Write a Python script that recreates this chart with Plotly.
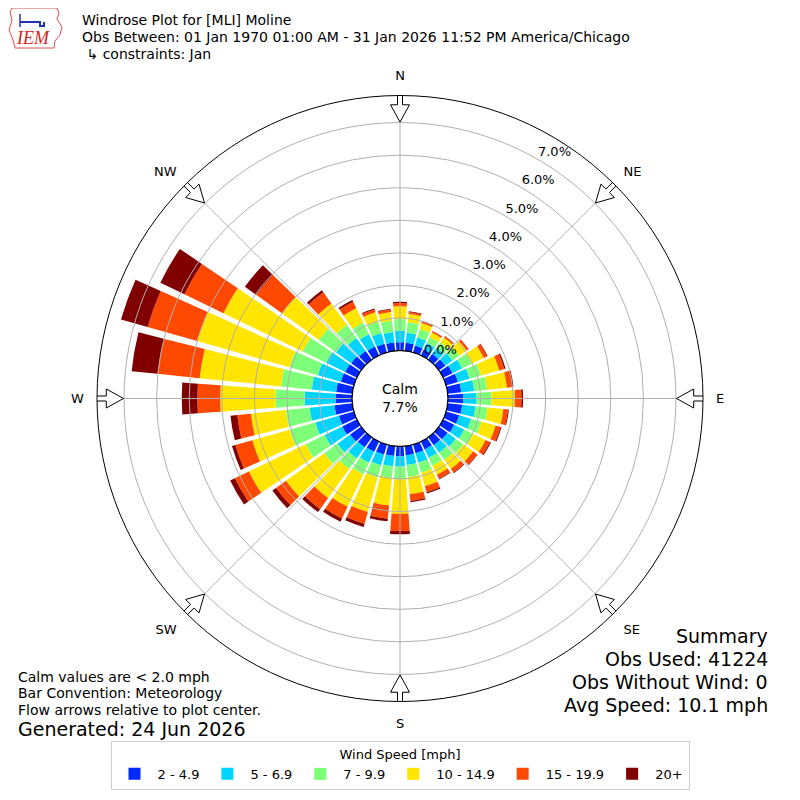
import math
import plotly.graph_objects as go

# wind direction bins (degrees, meteorological, clockwise from north)
DIRECTIONS = [0, 10, 20, 30, 40, 50, 60, 70, 80, 90, 100, 110,
              120, 130, 140, 150, 160, 170, 180, 190, 200, 210, 220, 230,
              240, 250, 260, 270, 280, 290, 300, 310, 320, 330, 340, 350]

SPEED_BINS = ["2 - 4.9", "5 - 6.9", "7 - 9.9", "10 - 14.9", "15 - 19.9", "20+"]
BIN_COLORS = ["#0028ff", "#00d4ff", "#7dff7a", "#ffe500", "#ff4800", "#800000"]

# frequency (%) of each speed bin per direction
freq_2_5 = [0.26, 0.25, 0.22, 0.20, 0.22, 0.25, 0.32, 0.38, 0.42, 0.47, 0.45, 0.42,
            0.38, 0.33, 0.30, 0.27, 0.28, 0.28, 0.30, 0.30, 0.32, 0.35, 0.38, 0.42,
            0.50, 0.48, 0.55, 0.50, 0.50, 0.42, 0.40, 0.38, 0.33, 0.30, 0.28, 0.26]
freq_5_7 = [0.35, 0.31, 0.26, 0.22, 0.23, 0.27, 0.33, 0.37, 0.40, 0.41, 0.41, 0.38,
            0.34, 0.31, 0.28, 0.28, 0.30, 0.30, 0.32, 0.32, 0.34, 0.37, 0.42, 0.48,
            0.60, 0.75, 0.77, 0.96, 0.75, 0.73, 0.65, 0.57, 0.49, 0.42, 0.34, 0.32]
freq_7_10 = [0.36, 0.32, 0.27, 0.20, 0.21, 0.26, 0.33, 0.37, 0.40, 0.46, 0.37, 0.33,
             0.31, 0.29, 0.28, 0.27, 0.32, 0.37, 0.39, 0.36, 0.39, 0.40, 0.40, 0.50,
             0.65, 0.82, 0.73, 0.90, 0.95, 0.90, 0.80, 0.65, 0.50, 0.40, 0.36, 0.35]
freq_10_15 = [0.39, 0.26, 0.19, 0.16, 0.18, 0.27, 0.41, 0.58, 0.61, 0.72, 0.49, 0.45,
              0.42, 0.37, 0.34, 0.31, 0.43, 0.53, 1.06, 0.85, 1.10, 1.10, 1.10, 1.45,
              1.93, 1.19, 1.08, 1.69, 2.51, 2.95, 2.70, 1.40, 0.81, 0.49, 0.30, 0.27]
freq_15_20 = [0.10, 0.06, 0.05, 0.04, 0.05, 0.07, 0.11, 0.16, 0.16, 0.20, 0.14, 0.16,
              0.15, 0.15, 0.14, 0.14, 0.19, 0.21, 0.53, 0.41, 0.38, 0.40, 0.42, 0.37,
              0.48, 0.54, 0.42, 0.70, 1.30, 1.58, 1.33, 0.97, 0.42, 0.22, 0.09, 0.08]
freq_20_up = [0.04, 0.02, 0.01, 0.01, 0.01, 0.01, 0.02, 0.04, 0.04, 0.05, 0.03, 0.03,
              0.03, 0.02, 0.02, 0.02, 0.04, 0.04, 0.10, 0.08, 0.10, 0.11, 0.11, 0.14,
              0.16, 0.11, 0.21, 0.48, 0.80, 0.85, 0.82, 0.43, 0.08, 0.06, 0.03, 0.02]

RADIAL_TICKS = [0, 1, 2, 3, 4, 5, 6, 7]
COMPASS_ANGLES = [0, 45, 90, 135, 180, 225, 270, 315]
COMPASS_LABELS = ["N", "NE", "E", "SE", "S", "SW", "W", "NW"]
CALM_PCT = 7.7

# geometry (page pixels); the page body adds an 8px margin
W = H = 800
OX, OY = 8, 8
CX, CY = 400, 398.5
R_PX = 303
HOLE = 0.158
RMAX = 7.83
FONT = "DejaVu Sans"


def px(x, y):
    return (x - OX) / W, 1 - (y - OY) / H


def px_to_r(rpix):
    return (rpix - HOLE * R_PX) / (R_PX * (1 - HOLE)) * RMAX


def arrow_outline(angle):
    # outline arrow pointing to the centre, local coords in pixels
    pts = [(305, -2.5), (293.7, -2.5), (293.7, -9.5), (276.5, 0),
           (293.7, 9.5), (293.7, 2.5), (305, 2.5), (305, -2.5)]
    rr, tt = [], []
    for u, v in pts:
        rr.append(px_to_r(math.hypot(u, v)))
        tt.append(angle + math.degrees(math.atan2(v, u)))
    return rr, tt


fig = go.Figure()

series = [freq_2_5, freq_5_7, freq_7_10, freq_10_15, freq_15_20, freq_20_up]
for vals, name, col in zip(series, SPEED_BINS, BIN_COLORS):
    fig.add_trace(go.Barpolar(r=vals, theta=DIRECTIONS, width=8.4, name=name,
                              marker=dict(color=col, line=dict(width=0)),
                              subplot="polar", hoverinfo="skip"))

# calm circle
circ_theta = list(range(0, 361, 2))
fig.add_trace(go.Scatterpolar(r=[0] * len(circ_theta), theta=circ_theta, mode="lines",
                              line=dict(color="black", width=1.2), showlegend=False,
                              hoverinfo="skip", cliponaxis=False, subplot="polar2"))

# direction arrows
ar, at = [], []
for a in COMPASS_ANGLES:
    r_, t_ = arrow_outline(a)
    ar += r_ + [None]
    at += t_ + [None]
fig.add_trace(go.Scatterpolar(r=ar, theta=at, mode="lines", fill="toself",
                              fillcolor="white", line=dict(color="black", width=1),
                              showlegend=False, hoverinfo="skip", cliponaxis=False,
                              subplot="polar2"))

# radial tick labels
fig.add_trace(go.Scatterpolar(r=RADIAL_TICKS, theta=[30] * len(RADIAL_TICKS), mode="text",
                              text=["%.1f%%" % t for t in RADIAL_TICKS],
                              textposition="top right",
                              textfont=dict(family=FONT, size=13, color="black"),
                              showlegend=False, hoverinfo="skip", cliponaxis=False,
                              subplot="polar2"))

x0, y1 = px(CX - R_PX, CY - R_PX)
x1, y0 = px(CX + R_PX, CY + R_PX)
dom_x = [x0, x1]
dom_y = [y0, y1]

fig.update_layout(
    width=W, height=H, autosize=False,
    margin=dict(l=0, r=0, t=0, b=0),
    paper_bgcolor="white",
    font=dict(family=FONT, size=13, color="black"),
    polar=dict(
        domain=dict(x=dom_x, y=dom_y), hole=HOLE, bgcolor="white",
        radialaxis=dict(range=[0, RMAX], visible=False),
        angularaxis=dict(rotation=90, direction="clockwise", visible=False),
    ),
    polar2=dict(
        domain=dict(x=dom_x, y=dom_y), hole=HOLE, bgcolor="rgba(0,0,0,0)",
        radialaxis=dict(range=[0, RMAX], tickvals=RADIAL_TICKS, showticklabels=False,
                        ticks="", showline=False, showgrid=True,
                        gridcolor="#b0b0b0", gridwidth=1),
        angularaxis=dict(rotation=90, direction="clockwise", tickvals=COMPASS_ANGLES,
                         ticktext=COMPASS_LABELS, ticks="outside", ticklen=10,
                         tickcolor="rgba(0,0,0,0)", tickfont=dict(size=13),
                         showgrid=True, gridcolor="#b0b0b0", gridwidth=1,
                         showline=True, linecolor="black", linewidth=1),
    ),
    legend=dict(orientation="h", x=px(400, 0)[0], xanchor="center",
                y=px(0, 741)[1], yanchor="top",
                bordercolor="#cccccc", borderwidth=1, bgcolor="white",
                title=dict(text="Wind Speed [mph]", side="top center",
                           font=dict(family=FONT, size=13)),
                font=dict(family=FONT, size=13), itemwidth=36, traceorder="normal"),
    showlegend=True,
)


def ann(text, x, y, size=13, xanchor="left", color="black"):
    ax, ay = px(x, y)
    fig.add_annotation(text=text, x=ax, y=ay, xref="paper", yref="paper",
                       showarrow=False, xanchor=xanchor, yanchor="middle",
                       font=dict(family=FONT, size=size, color=color))


ann("Windrose Plot for [MLI] Moline", 80, 20, size=14)
ann("Obs Between: 01 Jan 1970 01:00 AM - 31 Jan 2026 11:52 PM America/Chicago", 80, 37, size=14)
ann(" ↳ constraints: Jan", 80, 54, size=14)

ann("Calm<br>%.1f%%" % CALM_PCT, CX, CY, size=14, xanchor="center")

ann("Summary", 770, 636, size=19, xanchor="right")
ann("Obs Used: 41224", 770, 659, size=19, xanchor="right")
ann("Obs Without Wind: 0", 770, 682, size=19, xanchor="right")
ann("Avg Speed: 10.1 mph", 770, 705, size=19, xanchor="right")

ann("Calm values are < 2.0 mph", 16, 677, size=14)
ann("Bar Convention: Meteorology", 16, 693, size=14)
ann("Flow arrows relative to plot center.", 16, 710, size=14)
ann("Generated: 24 Jun 2026", 16, 729, size=19)


# IEM logo (rough)
def path(pts, close=True):
    s = "M " + " L ".join("%.4f,%.4f" % px(x, y) for x, y in pts)
    return s + (" Z" if close else "")


fig.add_shape(type="path", xref="paper", yref="paper",
              path=path([(12, 8), (57, 8), (59, 13), (57, 19), (62, 27), (60, 35),
                         (55, 41), (54, 48), (15, 48), (13, 40), (9, 30), (12, 20), (10, 12)]),
              line=dict(color="#e05050", width=1))
fig.add_shape(type="path", xref="paper", yref="paper",
              path=path([(20, 22), (40, 22), (40, 26), (44, 26), (44, 22)], close=False),
              line=dict(color="#2233bb", width=2))
fig.add_shape(type="path", xref="paper", yref="paper",
              path=path([(20, 14), (20, 27)], close=False),
              line=dict(color="#2233bb", width=1.5))
fig.add_annotation(text="<i>IEM</i>", x=px(14, 38)[0], y=px(14, 38)[1],
                   xref="paper", yref="paper", showarrow=False,
                   xanchor="left", yanchor="middle",
                   font=dict(family="Liberation Serif", size=18, color="#dd2222"))

fig.write_html("out.html")
